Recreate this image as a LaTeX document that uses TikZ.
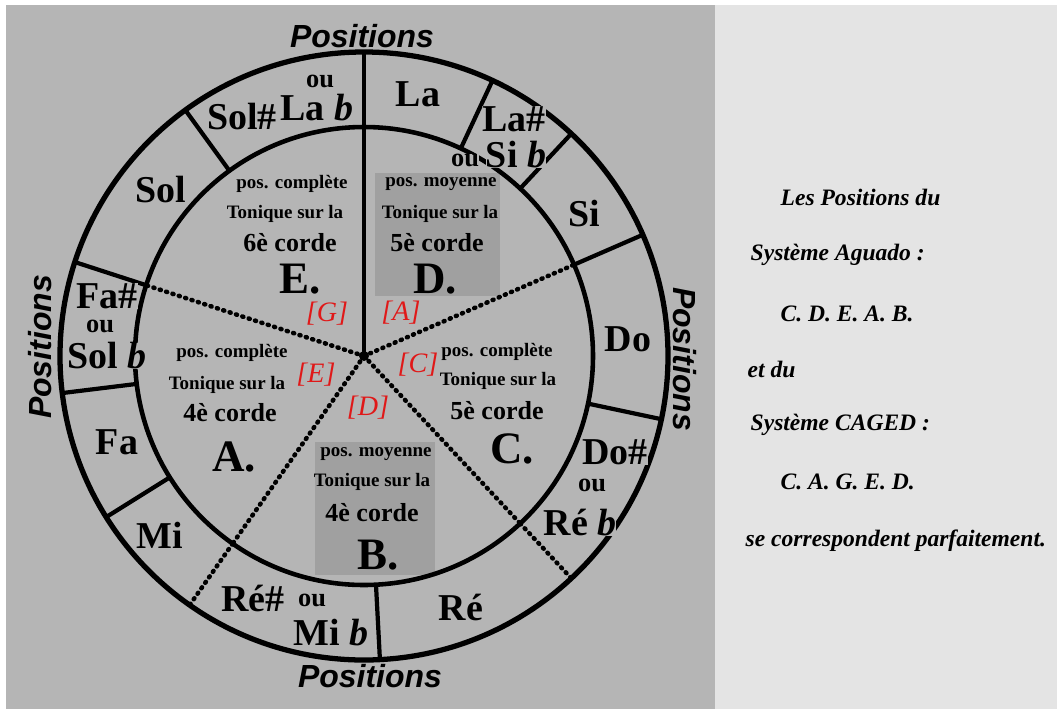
\documentclass[tikz,border=0pt]{standalone}
\usepackage{fontspec}
\setmainfont{Liberation Serif}
\setsansfont{Liberation Sans}
\usepackage{tikz}
\definecolor{PosGray}{HTML}{B5B5B5}
\definecolor{PosPanel}{HTML}{E4E4E4}
\definecolor{PosBox}{HTML}{A0A0A0}
\definecolor{PosRed}{HTML}{E01818}

\begin{document}
\begin{tikzpicture}[x=1cm,y=1cm,
  ring/.style={line width=1.5pt},
  divider/.style={line width=1.2pt},
  dotspoke/.style={line width=1.3pt,line cap=round,dash pattern=on 0.3pt off 1.6pt},
  note/.style={font=\bfseries\fontsize{10.8}{11}\selectfont,inner sep=0pt,fill=PosGray},
  notesmall/.style={font=\bfseries\fontsize{7.5}{8}\selectfont,inner sep=0pt,fill=PosGray},
  postxt/.style={font=\bfseries\fontsize{5.4}{6}\selectfont,inner sep=0pt},
  cordetxt/.style={font=\bfseries\fontsize{7.4}{8}\selectfont,inner sep=0pt},
  bigletter/.style={font=\bfseries\fontsize{12.8}{13}\selectfont,inner sep=0pt},
  cagedtag/.style={text=PosRed,font=\itshape\fontsize{8}{8}\selectfont,inner sep=0pt},
  posside/.style={font=\sffamily\bfseries\itshape\fontsize{9.1}{9}\selectfont,inner sep=0pt},
  paneltxt/.style={anchor=west,font=\bfseries\itshape\fontsize{6.7}{7}\selectfont,inner sep=0pt}]
\path[use as bounding box] (0,0) rectangle (10.57,7.09);
% backgrounds
\fill[white] (0,0) rectangle (10.57,7.09);
\fill[PosGray] (0.06,0) rectangle (7.15,7.04);
\fill[PosPanel] (7.15,0) rectangle (10.57,7.04);
\fill[PosBox] (3.75,4.13) rectangle (5.00,5.36);
\fill[PosBox] (3.15,1.34) rectangle (4.35,2.67);
% wheel
\begin{scope}[shift={(3.64,3.53)}]
\draw[ring] (0,0) circle (3.04);
\draw[line width=1.3pt] (0,0) circle (2.29);
\draw[divider] (0,0) -- (90:3.04);
\foreach \a in {65,47,23.5,-12,-87,-148,-173,162,126}
  \draw[divider] (\a:2.29) -- (\a:3.04);
\foreach \a in {-47,-125}
  \draw[dotspoke] (\a:2.29) -- (\a:3.04);
\foreach \a in {23.5,162,-47,-125}
  \draw[dotspoke] (0,0) -- (\a:2.29);
\fill (0,0) circle (0.05);
\end{scope}
% notes of the ring
\node[note] (la) at (4.18,6.15) {La};
\node[note] (lad) at (5.14,5.90) {La\#};
\node[notesmall] (lado) at (4.65,5.49) {ou};
\node[note] (sib) at (5.16,5.54) {Si \textit{b}};
\node[note] (si) at (5.84,4.95) {Si};
\node[note] (do) at (6.28,3.70) {Do};
\node[note] (dod) at (6.15,2.57) {Do\#};
\node[notesmall] (dodo) at (5.92,2.24) {ou};
\node[note] (reb) at (5.80,1.86) {Ré \textit{b}};
\node[note] (re) at (4.61,1.02) {Ré};
\node[note] (red) at (2.53,1.11) {Ré\#};
\node[notesmall] (redo) at (3.12,1.09) {ou};
\node[note] (mib) at (3.31,0.76) {Mi \textit{b}};
\node[note] (mi) at (1.60,1.74) {Mi};
\node[note] (fa) at (1.17,2.67) {Fa};
\node[note] (fad) at (1.07,4.13) {Fa\#};
\node[notesmall] (fado) at (1.00,3.83) {ou};
\node[note] (solb) at (1.07,3.53) {Sol \textit{b}};
\node[note] (sol) at (1.61,5.19) {Sol};
\node[note] (sold) at (2.42,5.92) {Sol\#};
\node[notesmall] (soldo) at (3.20,6.28) {ou};
\node[note] (lab) at (3.17,6.01) {La \textit{b}};
% positions E
\node[postxt] (eA) at (2.92,5.25) {pos. complète};
\node[postxt] (eB) at (2.85,4.95) {Tonique sur la};
\node[cordetxt] (eC) at (2.90,4.66) {6è corde};
\node[bigletter] (eD) at (3.00,4.30) {E.};
% positions D
\node[postxt] (dA) at (4.41,5.25) {pos. moyenne};
\node[postxt] (dB) at (4.40,4.95) {Tonique sur la};
\node[cordetxt] (dC) at (4.37,4.66) {5è corde};
\node[bigletter] (dD) at (4.35,4.30) {D.};
% positions C
\node[postxt] (cA) at (4.97,3.57) {pos. complète};
\node[postxt] (cB) at (4.98,3.28) {Tonique sur la};
\node[cordetxt] (cC) at (4.97,2.98) {5è corde};
\node[bigletter] (cD) at (5.12,2.60) {C.};
% positions A
\node[postxt] (aA) at (2.32,3.56) {pos. complète};
\node[postxt] (aB) at (2.27,3.24) {Tonique sur la};
\node[cordetxt] (aC) at (2.30,2.96) {4è corde};
\node[bigletter] (aD) at (2.34,2.52) {A.};
% positions B
\node[postxt] (bA) at (3.76,2.55) {pos. moyenne};
\node[postxt] (bB) at (3.72,2.27) {Tonique sur la};
\node[cordetxt] (bC) at (3.72,1.96) {4è corde};
\node[bigletter] (bD) at (3.78,1.54) {B.};
% CAGED tags
\node[cagedtag] (tagG) at (3.27,3.95) {[G]};
\node[cagedtag] (tagA) at (4.01,3.96) {[A]};
\node[cagedtag] (tagC) at (4.18,3.44) {[C]};
\node[cagedtag] (tagE) at (3.16,3.34) {[E]};
\node[cagedtag] (tagD) at (3.68,3.01) {[D]};
% outer labels
\node[posside] (posN) at (3.62,6.73) {Positions};
\node[posside] (posS) at (3.70,0.33) {Positions};
\node[posside,rotate=90] (posW) at (0.40,3.62) {Positions};
\node[posside,rotate=-90] (posE) at (6.85,3.50) {Positions};
% side panel
\node[paneltxt] (pA) at (7.80,5.12) {Les Positions du};
\node[paneltxt] (pB) at (7.50,4.54) {Système Aguado :};
\node[paneltxt] (pC) at (7.80,3.95) {C. D. E. A. B.};
\node[paneltxt] (pD) at (7.47,3.40) {et du};
\node[paneltxt] (pE) at (7.50,2.84) {Système CAGED :};
\node[paneltxt] (pF) at (7.80,2.27) {C. A. G. E. D.};
\node[paneltxt] (pG) at (7.45,1.68) {se correspondent parfaitement.};
\end{tikzpicture}
\end{document}
